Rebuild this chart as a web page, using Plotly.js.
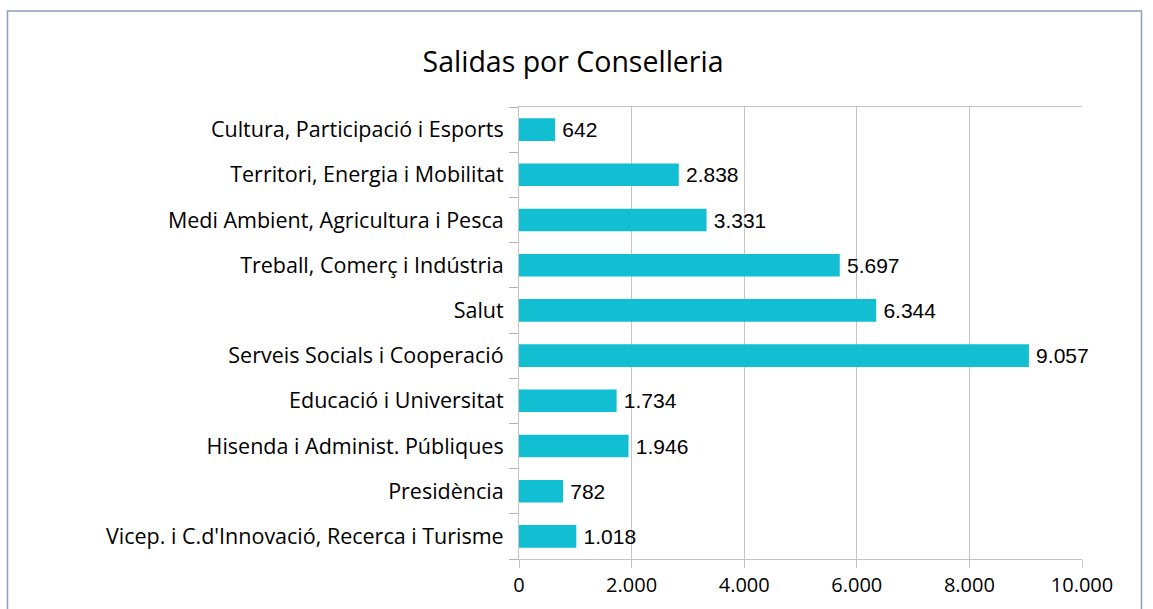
<!DOCTYPE html>
<html>
<head>
<meta charset="utf-8">
<script src="https://cdn.plot.ly/plotly-3.0.1.min.js"></script>
<style>html,body{margin:0;padding:0;background:#fff;}#chart{width:1153px;height:609px;}</style>
</head>
<body>
<div id="chart"></div>
<script>
const categories = [
  "Vicep. i C.d'Innovació, Recerca i Turisme",
  "Presidència",
  "Hisenda i Administ. Públiques",
  "Educació i Universitat",
  "Serveis Socials i Cooperació",
  "Salut",
  "Treball, Comerç i Indústria",
  "Medi Ambient, Agricultura i Pesca",
  "Territori, Energia i Mobilitat",
  "Cultura, Participació i Esports"
];
const values = [1018, 782, 1946, 1734, 9057, 6344, 5697, 3331, 2838, 642];
const tickVals = [0, 2000, 4000, 6000, 8000, 10000];

const trace = {
  type: 'bar',
  orientation: 'h',
  y: categories,
  x: values,
  width: 0.5,
  marker: {color: '#12BED2'},
  text: values,
  texttemplate: '\u2009%{x:,}',
  textposition: 'outside',
  cliponaxis: false,
  constraintext: 'none',
  textfont: {family: 'Liberation Sans, Arial, sans-serif', size: 21, color: '#000'},
  hoverinfo: 'none'
};

const layout = {
  width: 1153, height: 609,
  margin: {l: 519, r: 71, t: 107, b: 50},
  paper_bgcolor: '#fff', plot_bgcolor: '#fff',
  separators: ',.',
  showlegend: false,
  title: {
    text: 'Salidas por Conselleria',
    font: {family: 'Open Sans, Noto Sans, sans-serif', size: 28.5, color: '#000'},
    x: 0.497, xanchor: 'center', y: 0.898, yanchor: 'middle'
  },
  xaxis: {
    range: [0, 10000],
    tickvals: tickVals,
    tickformat: ',',
    showgrid: true, gridcolor: '#C4C4C4', gridwidth: 1,
    showline: true, linecolor: '#C4C4C4', linewidth: 1, mirror: true,
    ticks: 'outside', ticklen: 8, tickcolor: '#C4C4C4',
    tickfont: {family: 'Open Sans, Noto Sans, sans-serif', size: 20, color: '#000'},
    zeroline: false, fixedrange: true
  },
  yaxis: {
    type: 'category',
    categoryorder: 'array', categoryarray: categories,
    showgrid: false,
    showline: true, linecolor: '#C4C4C4', linewidth: 1,
    ticks: 'outside', ticklen: 9, tickwidth: 1, tickcolor: '#B4B4B4', tickson: 'boundaries',
    ticklabelstandoff: 10,
    tickfont: {family: 'Open Sans, Noto Sans, sans-serif', size: 21.5, color: '#000'},
    zeroline: false, fixedrange: true
  },
  shapes: [{
    type: 'rect', xref: 'paper', yref: 'paper',
    x0: -0.9085, x1: 1.1057, y0: -0.3, y1: 1.2124,
    line: {color: '#8A9CBF', width: 1.5}, fillcolor: 'rgba(0,0,0,0)', layer: 'below'
  }]
};

Plotly.newPlot('chart', [trace], layout, {displayModeBar: false, staticPlot: true});
</script>
</body>
</html>
